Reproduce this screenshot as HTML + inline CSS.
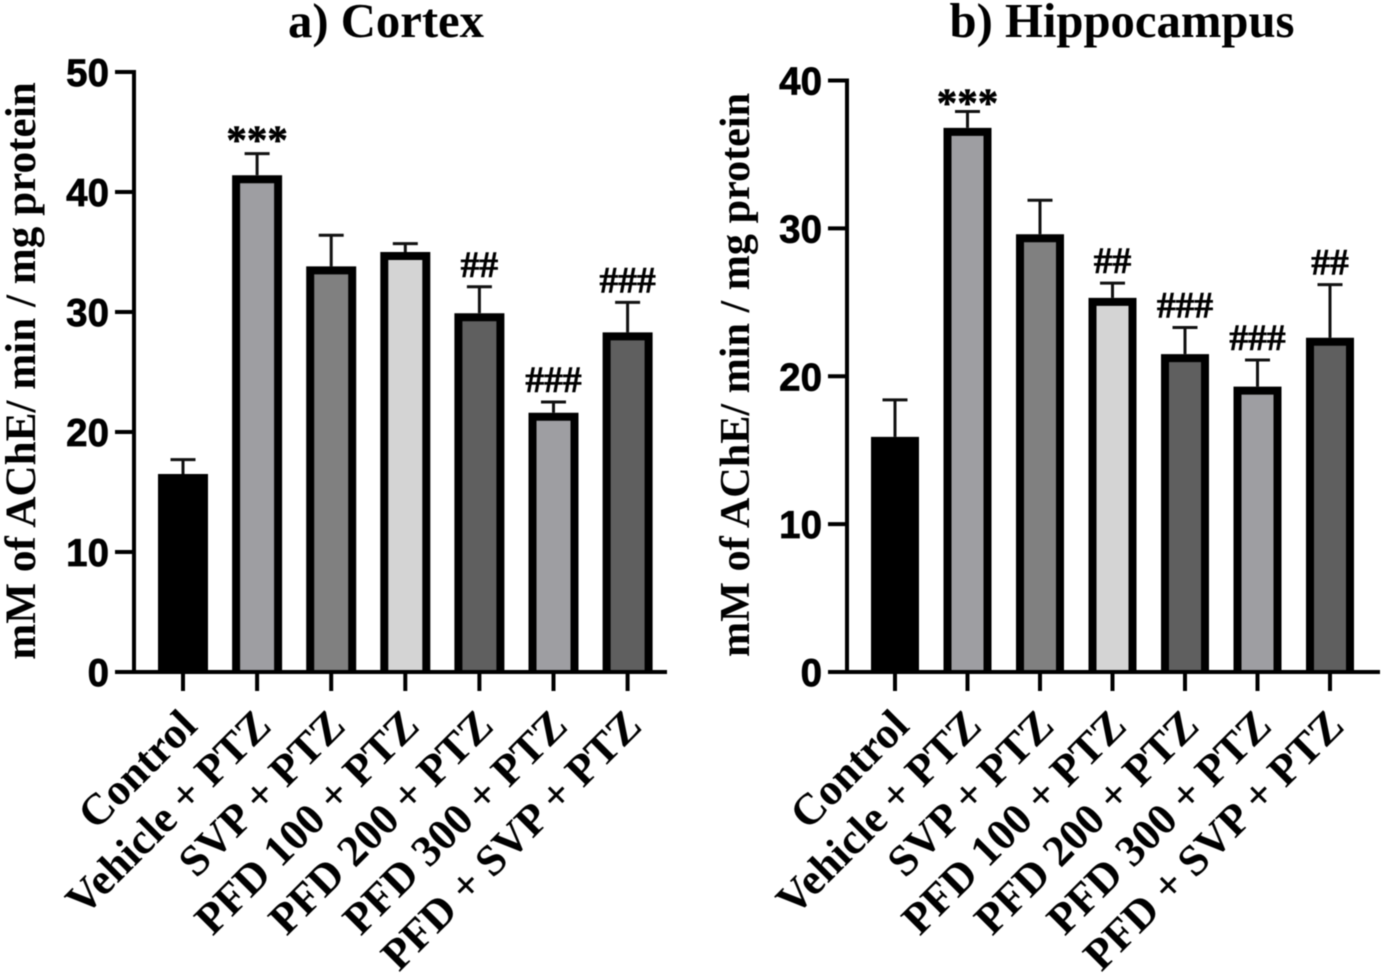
<!DOCTYPE html>
<html>
<head>
<meta charset="utf-8">
<title>AChE activity: Cortex and Hippocampus</title>
<style>
html,body{margin:0;padding:0;background:#fff;width:1384px;height:978px;overflow:hidden}
svg{display:block;filter:blur(0.5px)}
text{fill:#000}
.serif{font-family:"Liberation Serif",serif;font-weight:bold}
.mark{stroke:#000;stroke-width:0.6px}
.sans{font-family:"Liberation Sans",sans-serif;font-weight:bold;stroke:#000;stroke-width:0.7px}
</style>
</head>
<body>
<svg id="figure" xmlns="http://www.w3.org/2000/svg" width="1384" height="978" viewBox="0 0 1384 978"></svg>
<script>
const categories = ["Control","Vehicle + PTZ","SVP + PTZ","PFD 100 + PTZ","PFD 200 + PTZ","PFD 300 + PTZ","PFD + SVP + PTZ"];
const cortexMeans = [16.5,41.4,33.8,35.0,29.9,21.6,28.3];
const cortexErrorTops = [17.7,43.2,36.4,35.7,32.1,22.5,30.8];
const cortexMarks = ["","***","","","##","###","###"];
const cortexTicks = [0,10,20,30,40,50];
const hippoMeans = [15.9,36.8,29.6,25.3,21.5,19.3,22.6];
const hippoErrorTops = [18.4,37.9,31.9,26.3,23.3,21.1,26.2];
const hippoMarks = ["","***","","##","###","###","##"];
const hippoTicks = [0,10,20,30,40];
const barFills = ["#000000","#9e9ea2","#808080","#d4d4d4","#5f5f5f","#9e9ea2","#5f5f5f"];
const yAxisLabel = "mM of AChE/ min / mg protein";

const NS = "http://www.w3.org/2000/svg";
const root = document.getElementById("figure");

function make(parent, tag, attrs, text){
  const el = document.createElementNS(NS, tag);
  for (const k in attrs) el.setAttribute(k, attrs[k]);
  if (text !== undefined) el.textContent = text;
  parent.appendChild(el);
  return el;
}

function drawPanel(cfg){
  const g = make(root, "g", {});
  
  
  const y = v => cfg.y0 - (v / cfg.yMax) * (cfg.y0 - cfg.yTop);
  const x = i => cfg.x0 + i * cfg.step;

  const title = make(g, "text", {x:cfg.titleX, y:37, "text-anchor":"middle", class:"serif", "font-size":48.7}, cfg.title);
  
  

  const yTitle = make(g, "text", {transform:`translate(${cfg.yTitleX},${cfg.yTitleY}) rotate(-90)`, "text-anchor":"middle", class:"serif", "font-size":cfg.yTitleSize}, yAxisLabel);
  
  

  cfg.means.forEach((m, i) => {
    const cx = x(i);
    const errX = make(g, "line", {x1:cx, x2:cx, y1:y(m), y2:y(cfg.tops[i]), stroke:"#111", "stroke-width":3});
    
    
    const cap = make(g, "line", {x1:cx-12.5, x2:cx+12.5, y1:y(cfg.tops[i]), y2:y(cfg.tops[i]), stroke:"#111", "stroke-width":3});
    
    
    const sw = 8;
    const left = cx - cfg.barW/2 + sw/2;
    const right = cx + cfg.barW/2 - sw/2;
    const top = y(m) + sw/2;
    const bar = make(g, "path", {d:`M${left} ${cfg.y0} V${top} H${right} V${cfg.y0}`, fill:barFills[i], stroke:"#000", "stroke-width":sw});
    
    
    if (cfg.marks[i]) {
      const isStar = cfg.marks[i][0] === "*";
      const mark = make(g, "text", {x:cx, y:y(cfg.tops[i]) + (isStar ? cfg.starDy : -10), "text-anchor":"middle", class:"serif mark", "font-size":isStar ? 41 : 37.5}, cfg.marks[i]);
      
      
    }
    const tick = make(g, "line", {x1:cx, x2:cx, y1:cfg.y0, y2:cfg.y0+19, stroke:"#000", "stroke-width":4});
    
    
    const lab = make(g, "text", {transform:`translate(${cx+16},${cfg.y0+56}) rotate(-45)`, "text-anchor":"end", class:"serif", "font-size":44}, categories[i]);
    
    
  });

  const yAxis = make(g, "line", {x1:cfg.axisX, x2:cfg.axisX, y1:cfg.yTop-2, y2:cfg.y0+2, stroke:"#000", "stroke-width":4});
  
  
  const xAxis = make(g, "line", {x1:cfg.axisX-19, x2:cfg.axisEnd, y1:cfg.y0, y2:cfg.y0, stroke:"#000", "stroke-width":4});
  
  

  cfg.ticks.forEach(t => {
    const tk = make(g, "line", {x1:cfg.axisX-19, x2:cfg.axisX, y1:y(t), y2:y(t), stroke:"#000", "stroke-width":4});
    
    
    const tl = make(g, "text", {x:cfg.axisX-25, y:y(t)+14, "text-anchor":"end", class:"sans", "font-size":38.5}, t);
    
    
  });
}

drawPanel({name:"cortex-panel", title:"a) Cortex", titleX:386, yTitleX:35, yTitleY:371, yTitleSize:43.2,
  means:cortexMeans, tops:cortexErrorTops, marks:cortexMarks, ticks:cortexTicks,
  yMax:50, y0:672, yTop:72, axisX:134, axisEnd:667, x0:183, step:74.1, barW:50, starDy:0});
drawPanel({name:"hippocampus-panel", title:"b) Hippocampus", titleX:1122, yTitleX:749, yTitleY:375, yTitleSize:42.2,
  means:hippoMeans, tops:hippoErrorTops, marks:hippoMarks, ticks:hippoTicks,
  yMax:40, y0:672, yTop:80.5, axisX:847, axisEnd:1380, x0:895, step:72.5, barW:48, starDy:5});
</script>
</body>
</html>
